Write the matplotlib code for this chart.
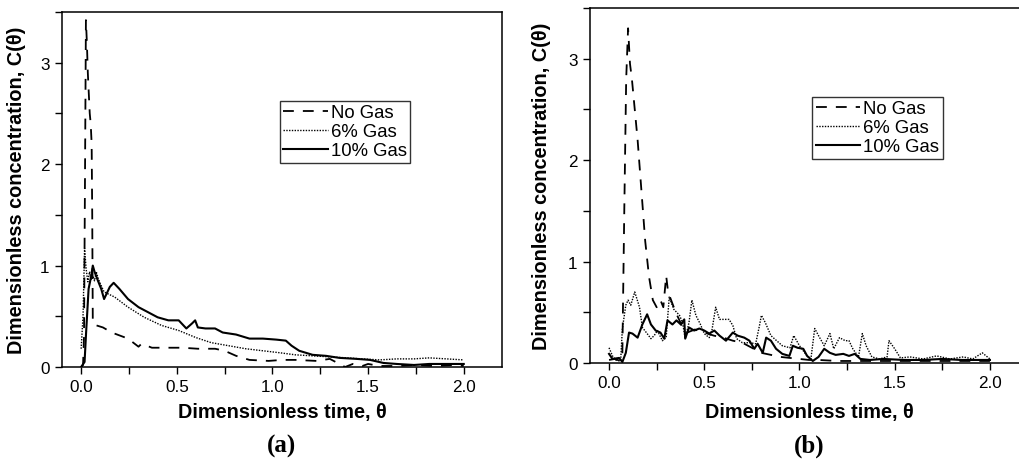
import numpy as np
import matplotlib
matplotlib.use("Agg")
from matplotlib import pyplot as plt
from matplotlib.ticker import MultipleLocator

plt.rcParams['font.family'] = ['Liberation Sans', 'DejaVu Sans']

labels = ['No Gas', '6% Gas', '10% Gas']

# ---- panel (a) ----
a_nogas_x = [0.0, 0.01, 0.015, 0.02, 0.025, 0.03, 0.035, 0.04, 0.045, 0.05, 0.055, 0.058, 0.061,
             0.08, 0.114, 0.16, 0.245, 0.3, 0.316, 0.37, 0.46, 0.53, 0.61, 0.7, 0.75, 0.81, 0.88,
             0.98, 1.05, 1.12, 1.23, 1.3, 1.35, 1.38, 1.42, 1.47, 1.5, 1.56, 1.65, 1.75, 1.85, 1.95, 2.0]
a_nogas_y = [0.0, 0.02, 0.3, 1.8, 3.42, 3.2, 2.9, 2.7, 2.5, 2.4, 2.2, 1.5, 0.43,
             0.41, 0.39, 0.34, 0.28, 0.2, 0.23, 0.19, 0.19, 0.19, 0.18, 0.18, 0.16, 0.11, 0.07,
             0.06, 0.07, 0.07, 0.06, 0.08, 0.03, 0.0, 0.03, 0.01, 0.03, 0.01, 0.01, 0.02, 0.01, 0.02, 0.01]

a_g6_x = [0.0, 0.01, 0.018, 0.026, 0.035, 0.044, 0.052, 0.061, 0.07, 0.079, 0.088, 0.096, 0.12, 0.175,
          0.245, 0.33, 0.42, 0.51, 0.6, 0.68, 0.77, 0.86, 0.95, 1.04, 1.12, 1.21, 1.3, 1.39,
          1.47, 1.56, 1.65, 1.74, 1.82, 1.91, 2.0]
a_g6_y = [0.18, 0.5, 1.17, 0.97, 0.84, 0.94, 0.86, 0.9, 0.85, 0.94, 0.88, 0.84, 0.74, 0.69,
          0.59, 0.49, 0.41, 0.36, 0.29, 0.24, 0.21, 0.18, 0.16, 0.14, 0.12, 0.11, 0.1, 0.09,
          0.08, 0.07, 0.08, 0.08, 0.09, 0.08, 0.07]

a_g10_x = [0.0, 0.018, 0.026, 0.039, 0.053, 0.061, 0.07, 0.088, 0.105, 0.12, 0.13, 0.15, 0.17,
           0.2, 0.245, 0.3, 0.35, 0.4, 0.456, 0.51, 0.55, 0.58, 0.596, 0.61, 0.65, 0.7, 0.74,
           0.81, 0.88, 0.95, 1.02, 1.07, 1.1, 1.14, 1.21, 1.28, 1.35, 1.44, 1.51, 1.58, 1.65,
           1.74, 1.82, 1.91, 2.0]
a_g10_y = [0.0, 0.05, 0.34, 0.77, 0.9, 1.0, 0.94, 0.85, 0.77, 0.67, 0.71, 0.79, 0.83,
           0.77, 0.67, 0.59, 0.54, 0.49, 0.46, 0.46, 0.38, 0.43, 0.46, 0.39, 0.38, 0.38, 0.34,
           0.32, 0.28, 0.28, 0.27, 0.26, 0.21, 0.16, 0.12, 0.11, 0.09, 0.08, 0.07, 0.04, 0.03,
           0.02, 0.03, 0.03, 0.03]

# ---- panel (b) ----
b_nogas_x = [0.0, 0.03, 0.06, 0.07, 0.08, 0.09, 0.1, 0.11, 0.12, 0.13, 0.15, 0.17, 0.19, 0.21,
             0.23, 0.25, 0.27, 0.285, 0.3, 0.31, 0.33, 0.35, 0.37, 0.39, 0.41, 0.45, 0.5, 0.55,
             0.6, 0.65, 0.7, 0.75, 0.8, 0.85, 0.9, 0.95, 1.0, 1.05, 1.1, 1.2, 1.4, 1.6, 1.8, 2.0]
b_nogas_y = [0.03, 0.04, 0.02, 0.1, 1.5, 2.8, 3.3, 2.95, 2.8, 2.6, 2.2, 1.7, 1.2, 0.85,
             0.62, 0.55, 0.62, 0.55, 0.86, 0.7, 0.6, 0.5, 0.42, 0.33, 0.3, 0.33, 0.3, 0.27,
             0.25, 0.22, 0.2, 0.15, 0.1, 0.08, 0.06, 0.05, 0.04, 0.03, 0.03, 0.02, 0.02, 0.02, 0.02, 0.02]

b_g6_x = [0.0, 0.018, 0.035, 0.061, 0.07, 0.088, 0.1, 0.114, 0.135, 0.16, 0.175, 0.2, 0.22, 0.237,
          0.254, 0.28, 0.3, 0.316, 0.34, 0.37, 0.386, 0.4, 0.42, 0.435, 0.456, 0.48, 0.5, 0.526,
          0.54, 0.56, 0.58, 0.6, 0.63, 0.65, 0.67, 0.7, 0.74, 0.77, 0.79, 0.8, 0.82, 0.85, 0.88,
          0.91, 0.95, 0.97, 1.0, 1.04, 1.06, 1.08, 1.1, 1.13, 1.16, 1.18, 1.21, 1.24, 1.26, 1.28,
          1.31, 1.33, 1.35, 1.38, 1.42, 1.46, 1.47, 1.5, 1.53, 1.58, 1.65, 1.72, 1.79, 1.86,
          1.91, 1.96, 2.0]
b_g6_y = [0.15, 0.07, 0.03, 0.02, 0.34, 0.57, 0.62, 0.57, 0.7, 0.55, 0.35, 0.29, 0.24, 0.27,
          0.32, 0.22, 0.25, 0.65, 0.53, 0.47, 0.4, 0.24, 0.4, 0.62, 0.47, 0.38, 0.29, 0.25,
          0.32, 0.55, 0.43, 0.43, 0.43, 0.37, 0.24, 0.2, 0.2, 0.19, 0.37, 0.47, 0.4, 0.27, 0.22,
          0.17, 0.15, 0.27, 0.17, 0.07, 0.04, 0.34, 0.27, 0.17, 0.29, 0.14, 0.25, 0.22, 0.22, 0.14,
          0.06, 0.29, 0.17, 0.06, 0.04, 0.06, 0.22, 0.14, 0.05, 0.06, 0.04, 0.07, 0.04, 0.06,
          0.04, 0.1, 0.04]

b_g10_x = [0.0, 0.018, 0.053, 0.07, 0.088, 0.105, 0.123, 0.15, 0.175, 0.2, 0.22, 0.245, 0.27,
           0.29, 0.307, 0.333, 0.354, 0.377, 0.395, 0.4, 0.42, 0.447, 0.474, 0.5, 0.526, 0.553,
           0.58, 0.614, 0.65, 0.675, 0.71, 0.737, 0.763, 0.78, 0.807, 0.825, 0.85, 0.877, 0.91,
           0.947, 0.965, 0.99, 1.02, 1.04, 1.07, 1.1, 1.13, 1.16, 1.19, 1.23, 1.26, 1.29, 1.32,
           1.37, 1.44, 1.55, 1.65, 1.75, 1.85, 1.95, 2.0]
b_g10_y = [0.09, 0.04, 0.05, 0.01, 0.1, 0.3, 0.29, 0.25, 0.38, 0.48, 0.38, 0.32, 0.3,
           0.24, 0.42, 0.38, 0.42, 0.38, 0.43, 0.24, 0.35, 0.32, 0.34, 0.32, 0.29, 0.32,
           0.27, 0.22, 0.3, 0.27, 0.25, 0.22, 0.14, 0.19, 0.1, 0.25, 0.22, 0.14, 0.09,
           0.07, 0.17, 0.15, 0.14, 0.07, 0.02, 0.06, 0.14, 0.1, 0.08, 0.09, 0.07, 0.09, 0.04,
           0.03, 0.04, 0.03, 0.03, 0.04, 0.03, 0.03, 0.03]


def style_axis(ax, xmax):
    ax.set_xlim(-0.1, xmax)
    ax.set_ylim(0, 3.5)
    ax.xaxis.set_major_locator(MultipleLocator(0.5))
    ax.xaxis.set_minor_locator(MultipleLocator(0.25))
    ax.yaxis.set_major_locator(MultipleLocator(1))
    ax.yaxis.set_minor_locator(MultipleLocator(0.5))
    ax.xaxis.set_major_formatter(matplotlib.ticker.FormatStrFormatter('%.1f'))
    ax.tick_params(which='both', direction='out', length=5, width=1, labelsize=12.3, pad=4)
    for s in ax.spines.values():
        s.set_linewidth(1.1)


def draw(ax, series):
    styles = [dict(ls=(0, (6, 5)), lw=1.3), dict(ls=(0, (1, 1)), lw=1.0), dict(ls='-', lw=1.5)]
    for (x, y), lab, st in zip(series, labels, styles):
        ax.plot(x, y, color='black', label=lab, **st)


fig = plt.figure(figsize=(10.19, 4.6), dpi=100)

axa = fig.add_axes([62 / 1019, 92 / 460, 440 / 1019, 355 / 460])
draw(axa, [(a_nogas_x, a_nogas_y), (a_g6_x, a_g6_y), (a_g10_x, a_g10_y)])
style_axis(axa, 2.2)

axb = fig.add_axes([590 / 1019, 96 / 460, 438 / 1019, 355 / 460])
draw(axb, [(b_nogas_x, b_nogas_y), (b_g6_x, b_g6_y), (b_g10_x, b_g10_y)])
style_axis(axb, 2.2)

for ax, lx, cap, anchor, ylx in [(axa, 282, '(a)', (0.495, 0.75), -0.082),
                                 (axb, 809, '(b)', (0.507, 0.75), -0.089)]:
    leg = ax.legend(loc='upper left', bbox_to_anchor=anchor, fontsize=13.3, frameon=True,
                    fancybox=False, edgecolor='black', handlelength=2.4, handletextpad=0.15,
                    labelspacing=0.1, borderpad=0.2, borderaxespad=0)
    leg.get_frame().set_linewidth(1.0)
    ax.set_ylabel('Dimensionless concentration, C(θ)', fontsize=14.3, fontweight='bold')
    ax.yaxis.set_label_coords(ylx, 0.5)
    fig.text(lx / 1019, 1 - 413 / 460, 'Dimensionless time, θ', ha='center', va='center',
             fontsize=14.3, fontweight='bold')
    fig.text(lx / 1019, 1 - 446 / 460, cap, ha='center', va='center', fontsize=18,
             fontweight='bold', family=['Liberation Serif', 'DejaVu Serif'])

fig.savefig('out.png', dpi=100)
